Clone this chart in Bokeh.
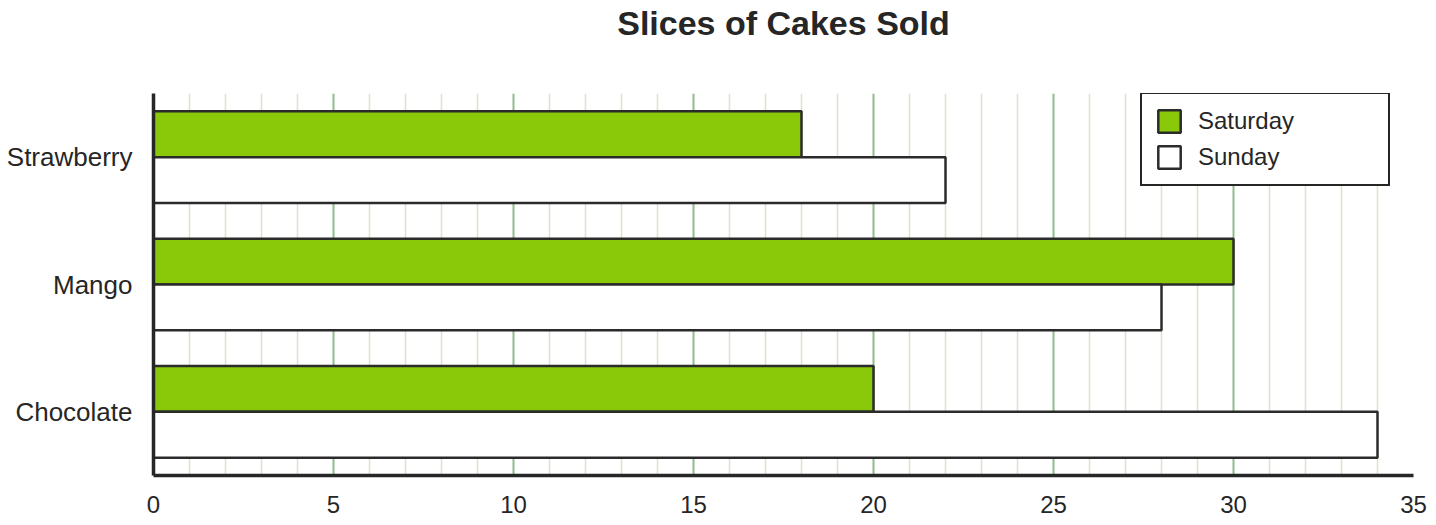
from bokeh.plotting import figure
from bokeh.models import ColumnDataSource, Legend, LegendItem, SingleIntervalTicker, Title
from bokeh.transform import dodge
from bokeh.embed import file_html
from bokeh.resources import INLINE

cakes = ["Chocolate", "Mango", "Strawberry"]
saturday = [20, 30, 18]
sunday = [34, 28, 22]
x_ticks = [0, 5, 10, 15, 20, 25, 30, 35]
title_text = "Slices of Cakes Sold"

src = ColumnDataSource(dict(cake=cakes, sat=saturday, sun=sunday))

FONT = "Liberation Sans"
DARK = "#262626"

p = figure(width=1436, height=525, y_range=cakes, x_range=(0, 35),
           output_backend="svg", toolbar_location=None,
           min_border_left=153, min_border_right=23, min_border_top=93, min_border_bottom=50,
           title=title_text)
p.outline_line_color = None
p.background_fill_color = "white"

p.title.align = "center"
p.title.vertical_align = "middle"
p.title.text_font = FONT
p.title.text_font_size = "34px"
p.title.text_font_style = "bold"
p.title.text_color = DARK
p.title.standoff = 4

spacer = Title(text=" ", text_font=FONT, text_font_size="34px", standoff=9)
p.add_layout(spacer, "above")

r_sat = p.hbar(y=dodge("cake", 0.18, range=p.y_range), right="sat", left=0, height=0.36, source=src,
               fill_color="#8ac80a", line_color="#2b2b2b", line_width=2.5)
r_sun = p.hbar(y=dodge("cake", -0.18, range=p.y_range), right="sun", left=0, height=0.36, source=src,
               fill_color="white", line_color="#2b2b2b", line_width=2.5)

ticker = SingleIntervalTicker(interval=5, num_minor_ticks=5)
p.xaxis.ticker = ticker
p.xgrid.ticker = ticker
p.xgrid.grid_line_color = "#96bc96"
p.xgrid.grid_line_width = 2
p.xgrid.minor_grid_line_color = "#d5e7c8"
p.xgrid.minor_grid_line_width = 1.5
p.ygrid.grid_line_color = None

for ax in (p.xaxis, p.yaxis):
    ax.axis_line_color = DARK
    ax.axis_line_width = 3.5
    ax.major_tick_line_color = None
    ax.minor_tick_line_color = None
    ax.major_label_text_font = FONT
    ax.major_label_text_font_size = "24px"
    ax.major_label_text_color = DARK
p.xaxis.major_label_standoff = 14
p.yaxis.major_label_standoff = 15
p.yaxis.major_label_text_font_size = "26px"

legend = Legend(items=[LegendItem(label="Saturday", renderers=[r_sat]),
                       LegendItem(label="Sunday", renderers=[r_sun])],
                location=(987, 289))
legend.border_line_color = DARK
legend.border_line_alpha = 1
legend.border_line_width = 2
legend.background_fill_color = "white"
legend.background_fill_alpha = 1
legend.glyph_width = 28
legend.glyph_height = 28
legend.spacing = 8
legend.padding = 13
legend.margin = 0
legend.label_standoff = 15
legend.label_width = 177
legend.label_text_font = FONT
legend.label_text_font_size = "24px"
legend.label_text_color = DARK
p.add_layout(legend, "center")

open("out.html", "w").write(file_html(p, INLINE))
